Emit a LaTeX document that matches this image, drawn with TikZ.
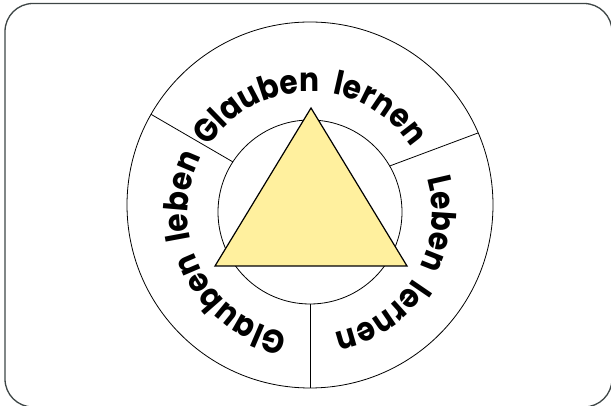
\documentclass[tikz,border=0pt]{standalone}
\usepackage{fontspec}
\newfontfamily\handfont{Poppins}[FakeStretch=0.9]
\usetikzlibrary{decorations.text}

\definecolor{triyellow}{HTML}{FFF09E}
\definecolor{framegray}{HTML}{3E4646}

\tikzset{
  ringlabel/.style={decorate, decoration={text along path, text align=center,
      text={|\handfont\bfseries\fontsize{33}{33}\selectfont|#1}}}
}

\begin{document}
\begin{tikzpicture}[x=1pt,y=1pt]

\useasboundingbox (0,0) rectangle (611,406);

\draw[framegray, line width=1.3pt, rounded corners=28pt] (5,-1) rectangle (612,402.5);

\coordinate (outer) at (310,201);
\coordinate (inner) at (310,194);
\coordinate (text) at (310,193);

\draw[line width=0.8pt] (outer) circle(183);  % aussen
\draw[line width=0.8pt] (inner) circle(92);   % innen

% Trennlinien
\draw[line width=0.8pt] ([shift={(147:92)}]inner) -- ([shift={(150.3:183)}]outer);
\draw[line width=0.8pt] ([shift={(30:92)}]inner) -- ([shift={(23.2:183)}]outer);
\draw[line width=0.8pt] ([shift={(270:92)}]inner) -- ([shift={(270:183)}]outer);

\draw[line width=1.2pt, fill=triyellow] (311,298) -- (215,140) -- (407,140) -- cycle;

\path[ringlabel={Glauben~ lernen}] ([shift={(160:121)}]text) arc[start angle=160, end angle=20, radius=121];
\path[ringlabel={Leben~ lernen}] ([shift={(39:122)}]text) arc[start angle=39, end angle=-101, radius=122];
\path[ringlabel={Glauben~ leben}] ([shift={(276:122)}]text) arc[start angle=276, end angle=136, radius=122];

\end{tikzpicture}
\end{document}
